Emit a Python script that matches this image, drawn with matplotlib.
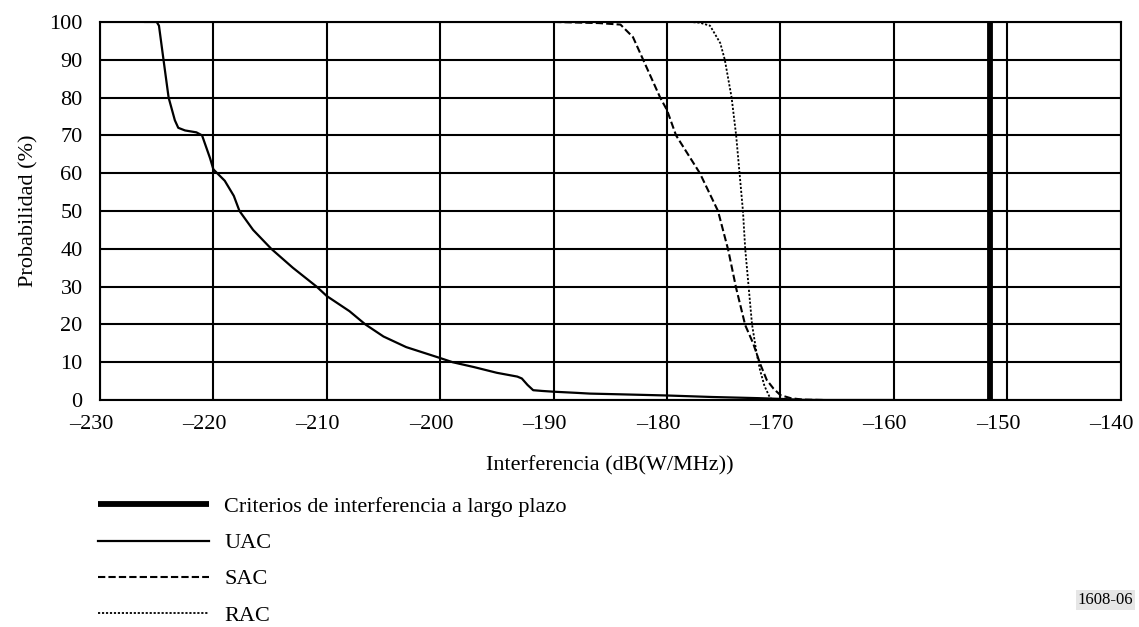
import matplotlib.pyplot as plt
import matplotlib.transforms as mtransforms
from matplotlib.lines import Line2D

plt.rcParams['font.family'] = ['Liberation Serif', 'DejaVu Serif']

# Criterio de interferencia a largo plazo (dB(W/MHz))
criterio_x = -151.5

# UAC
uac_x = [-226.0, -225.0, -224.8, -224.4, -223.95, -223.4, -223.1, -222.5, -221.5, -221.0,
         -220.3, -220.0, -219.5, -219.0, -218.2, -217.7, -216.5, -214.9, -213.0, -210.9,
         -210.0, -208.0, -206.6, -205.0, -203.0, -200.0, -198.9, -197.0, -195.0, -193.2,
         -192.8, -192.3, -191.8, -191.0, -190.0, -188.0, -186.8, -184.0, -180.0, -176.0,
         -172.0, -170.0, -168.0, -166.0, -160.0]
uac_y = [100, 100, 99, 90, 80, 74, 72, 71.3, 70.8, 70,
         64, 61, 59.5, 58, 54, 50, 45, 40, 35, 30,
         27.5, 23.5, 20, 16.8, 14, 11.1, 10, 8.7, 7.2, 6.2,
         5.7, 4, 2.6, 2.4, 2.2, 1.9, 1.7, 1.5, 1.2, 0.8,
         0.5, 0.3, 0.05, 0, 0]

# SAC
sac_x = [-212.0, -190.0, -186.0, -184.1, -183.0, -182.1, -180.6, -180.0, -179.2, -177.1,
         -175.5, -174.6, -173.9, -173.1, -172.4, -171.8, -171.2, -170.6, -170.0, -169.1,
         -168.0, -166.0]
sac_y = [100, 100, 99.7, 99.3, 96, 90, 80, 76.7, 70, 60,
         50, 39.7, 29.6, 19.8, 15, 9.7, 5.3, 3, 1.3, 0.5,
         0.1, 0]

# RAC
rac_x = [-212.0, -178.0, -177.1, -176.2, -175.3, -174.9, -174.3, -173.9, -173.6, -173.3,
         -173.1, -172.8, -172.5, -172.1, -171.8, -171.4, -170.9, -170.5, -168.0]
rac_y = [100, 100, 99.8, 99, 94.4, 90, 80, 70, 60, 50,
         40, 30, 20, 12.5, 8, 3.7, 0.5, 0, 0]

x_ticks = list(range(-230, -139, 10))
y_ticks = list(range(0, 101, 10))

fig = plt.figure(figsize=(11.39, 6.27), dpi=100)
ax = fig.add_axes([0.0878, 0.362, 0.896, 0.603])

ax.plot([criterio_x, criterio_x], [0, 100], color='black', lw=4.2, solid_capstyle='butt')
ax.plot(uac_x, uac_y, color='black', lw=1.6)
ax.plot(sac_x, sac_y, color='black', lw=1.5, dashes=(3.5, 1.5))
ax.plot(rac_x, rac_y, color='black', lw=1.3, dashes=(1.2, 1.0))

ax.set_xlim(-230, -140)
ax.set_ylim(0, 100)
ax.set_xticks(x_ticks)
ax.set_yticks(y_ticks)
ax.set_xticklabels([str(v).replace('-', '\u2013') for v in x_ticks], fontsize=16)
ax.set_yticklabels([str(v) for v in y_ticks], fontsize=16)
ax.tick_params(axis='x', length=0, pad=10.5)
ax.tick_params(axis='y', length=0, pad=12.5)
ax.grid(True, color='black', lw=1.5)
ax.set_axisbelow(True)
for s in ax.spines.values():
    s.set_linewidth(1.5)

# the dash hangs to the left: keep the digits centred on the grid line
shift = mtransforms.ScaledTranslation(-0.09, 0, fig.dpi_scale_trans)
for lab in ax.get_xticklabels():
    lab.set_transform(lab.get_transform() + shift)

ax.set_xlabel('Interferencia (dB(W/MHz))', fontsize=16, labelpad=16)
ax.set_ylabel('Probabilidad (%)', fontsize=16, labelpad=8)

handles = [Line2D([], [], color='black', lw=4.2, solid_capstyle='butt'),
           Line2D([], [], color='black', lw=1.6),
           Line2D([], [], color='black', lw=1.5, dashes=(3.5, 1.5)),
           Line2D([], [], color='black', lw=1.3, dashes=(1.2, 1.0))]
labels = ['Criterios de interferencia a largo plazo', 'UAC', 'SAC', 'RAC']
fig.legend(handles, labels, loc='upper left', bbox_to_anchor=(0.078, 0.222),
           frameon=False, fontsize=16, handlelength=5.0, handletextpad=0.7,
           labelspacing=0.7, borderaxespad=0)

fig.text(0.995, 0.043, '1608-06', fontsize=12, ha='right', va='center',
         bbox=dict(facecolor='#e6e6e6', edgecolor='none', pad=1.5))

fig.savefig('out.png', dpi=100)
